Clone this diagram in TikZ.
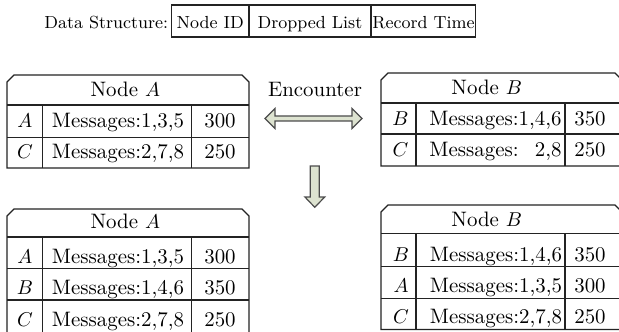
\documentclass[tikz,border=0pt]{standalone}
\definecolor{arrowfill}{RGB}{221,227,208}
\definecolor{framecol}{RGB}{35,35,35}
% outline of a table whose header row has chamfered top corners
\newcommand\tableframe[4]{%
  \draw[frame] (#1,#4) -- (#1,#3+7) -- (#1+7,#3) -- (#2-7,#3) -- (#2,#3+7) -- (#2,#4) -- cycle;}
\begin{document}
\begin{tikzpicture}[x=0.5pt,y=-0.5pt,
  frame/.style={draw=framecol,line width=0.6pt},
  cell/.style={inner sep=0pt,anchor=base,font=\fontsize{10.45}{12}\selectfont},
  small/.style={inner sep=0pt,anchor=base,font=\fontsize{8.75}{10}\selectfont},
  blockarrow/.style={draw=black!70,fill=arrowfill,line width=0.6pt,line join=miter}]
\useasboundingbox (0,0) rectangle (619,331);
\clip (0,0) rectangle (619,331);

% legend of the record layout
\node[small,anchor=base east] (dslabel) at (168.5,28.3) {Data Structure:};
\draw[frame] (171.7,5) rectangle (475.7,37);
\draw[frame] (249,5) -- (249,37) (371,5) -- (371,37);
\node[small] (dsid) at (210.3,28.3) {Node ID};
\node[small] (dslist) at (310,28.3) {Dropped List};
\node[small] (dstime) at (423.5,28.3) {Record Time};

% node A before the encounter
\tableframe{7}{249}{75}{168}
\draw[frame] (7,105) -- (249,105) (7,137.5) -- (249,137.5)
  (42.7,105) -- (42.7,168) (191.7,105) -- (191.7,168);
\node[cell] (a1h) at (125.3,96.5) {Node $A$};
\node[cell] (a1r1id) at (25,127.3) {$A$};
\node[cell] (a1r1m) at (118,127.3) {Messages:1,3,5};
\node[cell] (a1r1t) at (220,127.3) {300};
\node[cell] (a1r2id) at (25,158.5) {$C$};
\node[cell] (a1r2m) at (118,158.5) {Messages:2,7,8};
\node[cell] (a1r2t) at (220,158.5) {250};

% node B before the encounter
\tableframe{381}{622}{73}{166}
\draw[frame] (381,103) -- (622,103) (381,134) -- (622,134)
  (416,103) -- (416,166) (565,103) -- (565,166);
\node[cell] (b1h) at (486.7,94.5) {Node $B$};
\node[cell] (b1r1id) at (400.5,125.7) {$B$};
\node[cell] (b1r1m) at (495.5,125.7) {Messages:1,4,6};
\node[cell] (b1r1t) at (590,125.7) {350};
\node[cell] (b1r2id) at (400.5,156.7) {$C$};
\node[cell] (b1r2m) at (495.5,156.7) {\setbox0\hbox{Messages:1,4,6}\hbox to \wd0{Messages:\hfill 2,8}};
\node[cell] (b1r2t) at (590,156.7) {250};

% encounter and merge arrows
\node[cell] (enc) at (315,97) {Encounter};
\draw[blockarrow] (265,118.5) -- (275,108.5) -- (275,116) -- (352,116) -- (352,108.5)
  -- (362,118.5) -- (352,128.5) -- (352,121) -- (275,121) -- (275,128.5) -- cycle;
\draw[blockarrow] (310.3,166) -- (319.3,166) -- (319.3,197) -- (324.7,197)
  -- (314.8,207.3) -- (304.9,197) -- (310.3,197) -- cycle;

% node A after the encounter
\tableframe{7}{249}{209}{336}
\draw[frame] (7,237) -- (249,237) (7,268.3) -- (249,268.3) (7,300) -- (249,300)
  (42.7,237) -- (42.7,336) (191.7,237) -- (191.7,336);
\node[cell] (a2h) at (125.3,228.5) {Node $A$};
\node[cell] (a2r1id) at (25,263.3) {$A$};
\node[cell] (a2r1m) at (118,263.3) {Messages:1,3,5};
\node[cell] (a2r1t) at (220,263.3) {300};
\node[cell] (a2r2id) at (25,294.5) {$B$};
\node[cell] (a2r2m) at (118,294.5) {Messages:1,4,6};
\node[cell] (a2r2t) at (220,294.5) {350};
\node[cell] (a2r3id) at (25,326) {$C$};
\node[cell] (a2r3m) at (118,326) {Messages:2,7,8};
\node[cell] (a2r3t) at (220,326) {250};

% node B after the encounter
\tableframe{381}{622}{205}{329.5}
\draw[frame] (381,233.3) -- (622,233.3) (381,266.7) -- (622,266.7) (381,298.3) -- (622,298.3)
  (416,233.3) -- (416,329.5) (565,233.3) -- (565,329.5);
\node[cell] (b2h) at (486.7,226) {Node $B$};
\node[cell] (b2r1id) at (401,261.7) {$B$};
\node[cell] (b2r1m) at (496,261.7) {Messages:1,4,6};
\node[cell] (b2r1t) at (590,261.7) {350};
\node[cell] (b2r2id) at (401,292.3) {$A$};
\node[cell] (b2r2m) at (496,292.3) {Messages:1,3,5};
\node[cell] (b2r2t) at (590,292.3) {300};
\node[cell] (b2r3id) at (401,323.3) {$C$};
\node[cell] (b2r3m) at (496,323.3) {Messages:2,7,8};
\node[cell] (b2r3t) at (590,323.3) {250};
\end{tikzpicture}
\end{document}
